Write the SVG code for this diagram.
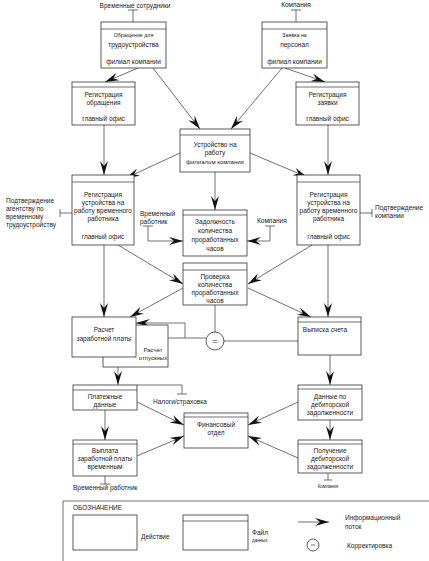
<svg xmlns="http://www.w3.org/2000/svg" width="429" height="561" viewBox="0 0 429 561">
<defs>
<marker id="ah" viewBox="0 0 14 8" refX="14" refY="4" markerWidth="14" markerHeight="8" orient="auto" markerUnits="userSpaceOnUse"><path d="M0,0 L14,4 L0,8 L5,4 z" fill="#111"/></marker>
<style>
.b{fill:#fff;stroke:#333;stroke-width:0.8}
.l{fill:none;stroke:#333;stroke-width:0.7}
.a{fill:none;stroke:#333;stroke-width:0.7;marker-end:url(#ah)}
text{font-family:"Liberation Sans",Arial,sans-serif;font-size:6.5px;fill:#222}
.c{text-anchor:middle}
.s{font-size:5.3px}
.m{font-size:6px}
.xs{font-size:4.5px}
</style>
</defs>
<rect width="429" height="561" fill="#fff"/>

<g id="connectors">
<path class="a" d="M138,68 L105,82"/>
<path class="a" d="M153,68 L200,129"/>
<path class="a" d="M285,68 L325,82"/>
<path class="a" d="M282,68 L231,129"/>
<path class="a" d="M104,125 L104,175"/>
<path class="a" d="M328,125 L328,175"/>
<path class="a" d="M180,153 L126,178"/>
<path class="a" d="M250,153 L307,177"/>
<path class="a" d="M215,172 L215,210"/>
<path class="a" d="M118,245 L183,284"/>
<path class="a" d="M312,245 L248,284"/>
<path class="a" d="M104,245 L104,317"/>
<path class="a" d="M183,288 L130,317"/>
<path class="a" d="M248,288 L311,317"/>
<path class="a" d="M328,245 L328,317"/>
<path class="l" d="M215,305 L215,332"/>
<path class="l" d="M168,338 L206,338"/>
<path class="a" d="M185,338 L185,323 L136,323"/>
<path class="l" d="M224,341 L298,341"/>
<path class="a" d="M118,367 L118,385"/>
<path class="a" d="M330,355 L330,385"/>
<path class="a" d="M105,410 L105,440"/>
<path class="a" d="M330,420 L330,440"/>
<path class="a" d="M137,402 L184,425"/>
<path class="a" d="M137,456 L184,436"/>
<path class="a" d="M298,402 L248,425"/>
<path class="a" d="M298,458 L248,436"/>
<path class="a" d="M148,226 L148,241 L183,241"/>
<path class="l" d="M143,226 L153,226"/>
<path class="a" d="M270,226 L270,241 L247,241"/>
<path class="l" d="M265,226 L275,226"/>
<path class="l" d="M133,22 L133,10 M128,10 L138,10"/>
<path class="l" d="M296,22 L296,10 M291,10 L301,10"/>
<path class="l" d="M72,213 L60,213 M60,209 L60,217"/>
<path class="l" d="M360,213 L372,213 M372,209 L372,217"/>
<path class="l" d="M137,385 L182,385 L182,394 M177,394 L187,394"/>
<path class="l" d="M105,476 L105,484 M100,484 L110,484"/>
<path class="l" d="M328,473 L328,480 M324,480 L332,480"/>
</g>

<g id="n1"><rect class="b" x="101" y="22" width="65" height="46"/><path class="l" d="M101,29 H166"/>
<text class="c s" x="133.5" y="37">Обращение для</text><text class="c" x="133.5" y="47">трудоустройства</text><text class="c" x="133.5" y="64">филиал компании</text></g>
<text class="c" x="135" y="8">Временные сотрудники</text>

<g id="n2"><rect class="b" x="262" y="22" width="65" height="46"/><path class="l" d="M262,29 H327"/>
<text class="c s" x="294.5" y="37">Заявка на</text><text class="c" x="294.5" y="47">персонал</text><text class="c" x="294.5" y="64">филиал компании</text></g>
<text class="c" x="296" y="7">Компания</text>

<g id="n3"><rect class="b" x="72" y="82" width="63" height="43"/><path class="l" d="M72,87 H135"/>
<text class="c" x="103.5" y="97">Регистрация</text><text class="c" x="103.5" y="105">обращения</text><text class="c" x="103.5" y="121">главный офис</text></g>

<g id="n4"><rect class="b" x="296" y="82" width="63" height="43"/><path class="l" d="M296,87 H359"/>
<text class="c" x="327.5" y="97">Регистрация</text><text class="c" x="327.5" y="105">заявки</text><text class="c" x="327.5" y="121">главный офис</text></g>

<g id="n5"><rect class="b" x="180" y="129" width="70" height="43"/><path class="l" d="M180,135 H250"/>
<text class="c" x="215" y="147">Устройство на</text><text class="c" x="215" y="155">работу</text><text class="c m" x="215" y="164">филиалом компании</text></g>

<g id="n6"><rect class="b" x="72" y="175" width="62" height="70"/><path class="l" d="M72,182 H134"/>
<text class="c" x="103" y="197">Регистрация</text><text class="c" x="103" y="205">устройства на</text><text class="c" x="103" y="213">работу временного</text><text class="c" x="103" y="221">работника</text><text class="c" x="103" y="239">главный офис</text></g>
<text x="6" y="203">Подтверждение</text><text x="6" y="211">агентству по</text><text x="6" y="219">временному</text><text x="6" y="227">трудоустройству</text>

<g id="n7"><rect class="b" x="297" y="175" width="63" height="70"/><path class="l" d="M297,182 H360"/>
<text class="c" x="328.5" y="197">Регистрация</text><text class="c" x="328.5" y="205">устройства на</text><text class="c" x="328.5" y="213">работу временного</text><text class="c" x="328.5" y="221">работника</text><text class="c" x="328.5" y="239">главный офис</text></g>
<text x="375" y="210">Подтверждение</text><text x="375" y="218">компании</text>

<g id="n8"><rect class="b" x="183" y="210" width="64" height="46"/><path class="l" d="M183,215 H247"/>
<text class="c" x="215" y="224">Задолжность</text><text class="c" x="215" y="233">количества</text><text class="c" x="215" y="242">проработанных</text><text class="c" x="215" y="251">часов</text></g>
<text x="140" y="216">Временный</text><text x="140" y="224">работник</text>
<text x="257" y="223">Компания</text>

<g id="n9"><rect class="b" x="183" y="263" width="64" height="42"/><path class="l" d="M183,270 H247"/>
<text class="c" x="215" y="279">Проверка</text><text class="c" x="215" y="287">количества</text><text class="c" x="215" y="295">проработанных</text><text class="c" x="215" y="303">часов</text></g>

<g id="n10b"><rect class="b" x="103" y="325" width="65" height="42"/>
<text class="c m" x="153" y="352">Расчет</text><text class="c m" x="153" y="360">отпускных</text></g>
<g id="n10"><rect class="b" x="72" y="317" width="64" height="40"/>
<text class="c" x="104" y="332">Расчет</text><text class="c" x="104" y="341">заработной платы</text></g>

<g id="eq"><circle cx="215" cy="341" r="9" fill="#fff" stroke="#333" stroke-width="0.8"/><text class="c" x="215" y="344" style="font-size:9px">=</text></g>

<g id="n11"><rect class="b" x="298" y="317" width="63" height="38"/><path class="l" d="M298,322 H361"/>
<text class="c" x="325" y="332">Выписка счета</text></g>

<g id="n12"><rect class="b" x="73" y="385" width="64" height="25"/><path class="l" d="M73,390 H137"/>
<text class="c" x="105" y="399">Платежные</text><text class="c" x="105" y="407">данные</text></g>
<text x="153" y="404">Налоги/страховка</text>

<g id="n13"><rect class="b" x="184" y="413" width="64" height="35"/><path class="l" d="M184,417 H248"/>
<text class="c" x="216" y="427">Финансовый</text><text class="c" x="216" y="435">отдел</text></g>

<g id="n14"><rect class="b" x="73" y="440" width="64" height="36"/><path class="l" d="M73,444 H137"/>
<text class="c" x="105" y="453">Выплата</text><text class="c" x="105" y="461">заработной платы</text><text class="c" x="105" y="469">временным</text></g>
<text x="73" y="490">Временный работник</text>

<g id="n15"><rect class="b" x="298" y="385" width="64" height="35"/><path class="l" d="M298,389 H362"/>
<text class="c" x="330" y="399">Данные по</text><text class="c" x="330" y="407">дебиторской</text><text class="c" x="330" y="415">задолженности</text></g>

<g id="n16"><rect class="b" x="298" y="440" width="64" height="33"/><path class="l" d="M298,444 H362"/>
<text class="c" x="330" y="453">Получение</text><text class="c" x="330" y="461">дебиторской</text><text class="c" x="330" y="469">задолженности</text></g>
<text class="c xs" x="328" y="488">Компания</text>

<g id="legend">
<path class="l" d="M63,501 H429 M63,501 V561"/>
<text x="73" y="510">ОБОЗНАЧЕНИЕ</text>
<rect class="b" x="73" y="515" width="64" height="35"/>
<text x="141" y="539">Действие</text>
<rect class="b" x="183" y="515" width="65" height="35"/><path class="l" d="M183,521 H248"/>
<text x="252" y="535">Файл</text><text class="xs" x="252" y="542">данных</text>
<path class="a" d="M298,522 L329,522"/>
<text x="345" y="520">Информационный</text><text x="345" y="529">поток</text>
<circle cx="313" cy="545" r="6" fill="#fff" stroke="#333" stroke-width="0.8"/><path class="l" d="M311,545 H315"/>
<text x="347" y="548">Корректировка</text>
</g>
</svg>
